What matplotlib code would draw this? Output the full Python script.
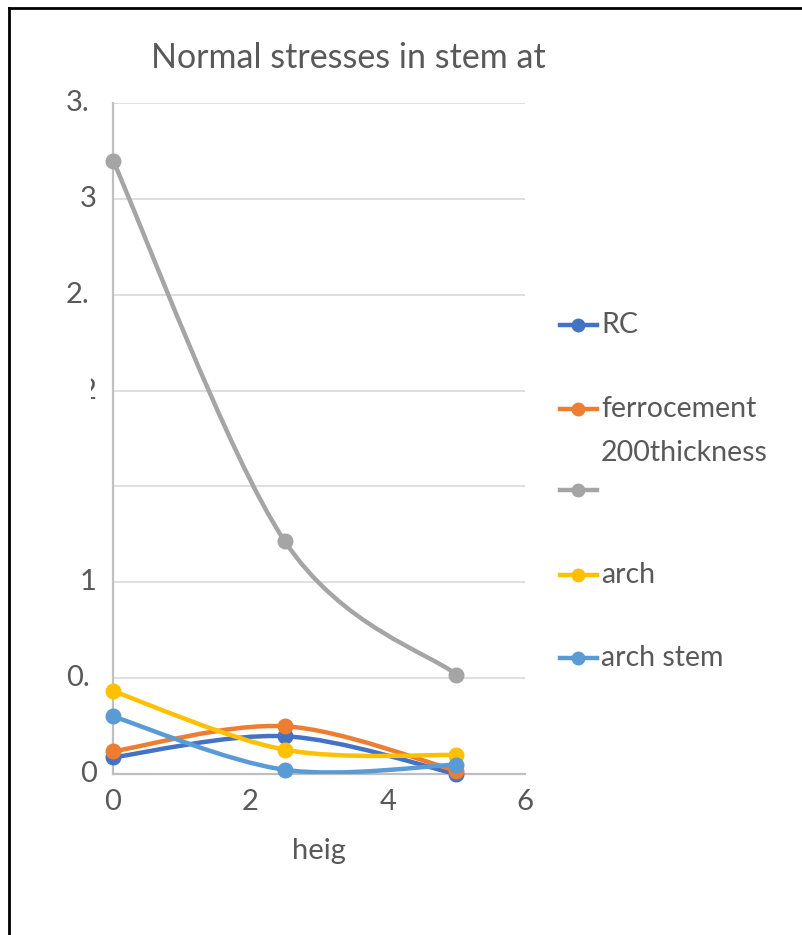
import matplotlib.pyplot as plt
import numpy as np
from matplotlib.path import Path
from matplotlib.patches import PathPatch, Rectangle
from matplotlib.lines import Line2D
import matplotlib.transforms as mtransforms

plt.rcParams['font.family'] = ['Lato', 'DejaVu Sans']

# data
heights = [0, 2.5, 5]
series_names = ['RC', 'ferrocement', '200thickness', 'arch', 'arch stem']
rc = [0.087, 0.197, 0.0]
ferrocement = [0.118, 0.249, 0.017]
thick200 = [3.2, 1.215, 0.519]
arch = [0.432, 0.127, 0.099]
arch_stem = [0.30, 0.022, 0.049]
series_values = [rc, ferrocement, thick200, arch, arch_stem]
colors = ['#4472C4', '#ED7D31', '#A5A5A5', '#FFC000', '#5B9BD5']

y_ticks = [0, 0.5, 1, 1.5, 2, 2.5, 3, 3.5]
y_labels = ['0', '0.', '1', '', '2', '2.', '3', '3.']
x_ticks = [0, 2, 4, 6]
text_color = '#595959'


def smooth_path(xs, ys):
    # Excel-like smoothing: cubic bezier with catmull-rom control points
    pts = np.column_stack([xs, ys]).astype(float)
    n = len(pts)
    verts = [pts[0]]
    codes = [Path.MOVETO]
    for i in range(n - 1):
        p_prev = pts[i - 1] if i > 0 else pts[i]
        p_next2 = pts[i + 2] if i + 2 < n else pts[i + 1]
        c1 = pts[i] + (pts[i + 1] - p_prev) / 6
        c2 = pts[i + 1] - (p_next2 - pts[i]) / 6
        verts += [c1, c2, pts[i + 1]]
        codes += [Path.CURVE4] * 3
    return Path(verts, codes)


W, H = 803, 935
fig = plt.figure(figsize=(W / 100, H / 100), dpi=100)
ax = fig.add_axes([113 / W, 1 - 774 / H, (525 - 113) / W, (774 - 103) / H])

for vals, col in zip(series_values, colors):
    ax.add_patch(PathPatch(smooth_path(heights, vals), facecolor='none',
                           edgecolor=col, lw=3.2, capstyle='round', zorder=3))
    ax.plot(heights, vals, 'o', color=col, markersize=10.5, zorder=4, clip_on=False)

ax.set_xlim(0, 6)
ax.set_ylim(0, 3.5)
ax.set_yticks(y_ticks)
ax.set_yticklabels([])
ax.set_xticks(x_ticks)
ax.set_xticklabels([str(t) for t in x_ticks], fontsize=21, color=text_color)
ax.tick_params(axis='x', length=0, pad=11)
ax.tick_params(axis='y', length=0)
ax.grid(axis='y', color='#D9D9D9', lw=1.2)
ax.set_axisbelow(True)
for s in ['top', 'right']:
    ax.spines[s].set_visible(False)
ax.spines['left'].set_color('#BFBFBF')
ax.spines['left'].set_linewidth(1.6)
ax.spines['bottom'].set_color('#BFBFBF')
ax.spines['bottom'].set_linewidth(1.6)

# truncated y tick labels, as in the source
trans = mtransforms.blended_transform_factory(fig.transFigure, ax.transData)
clip = Rectangle((91, 0), 40, H, transform=None)
for t, lab in zip(y_ticks, y_labels):
    if lab == '':
        continue
    if lab.endswith('.'):
        ax.text(66 / W, t, lab, transform=trans, ha='left', va='center',
                fontsize=21, color=text_color, clip_on=False)
    else:
        txt = ax.text(97 / W, t, lab, transform=trans, ha='right', va='center',
                      fontsize=21, color=text_color, clip_on=False)
        if t == 2:
            txt.set_clip_path(clip)
            txt.set_clip_on(True)

ax.set_xlabel('heig', fontsize=21, color=text_color, labelpad=16)
fig.text(348 / W, 1 - 58 / H, 'Normal stresses in stem at', ha='center', va='center',
         fontsize=24.5, color=text_color)

# legend drawn by hand to reproduce the odd Excel layout
leg_rows = [325, 409, 490, 575, 658]
for name, col, yy in zip(series_names, colors, leg_rows):
    fy = 1 - yy / H
    fig.add_artist(Line2D([560 / W, 597 / W], [fy, fy], color=col, lw=3.2))
    fig.add_artist(Line2D([578 / W], [fy], marker='o', color=col, markersize=9))
    if name == '200thickness':
        fig.text(601 / W, 1 - 453 / H, name, ha='left', va='center',
                 fontsize=20.5, color=text_color)
    else:
        fig.text(601 / W, fy, name, ha='left', va='center',
                 fontsize=20.5, color=text_color)

# outer frame (only left and top edges visible in the crop)
fig.add_artist(Line2D([9 / W, 9 / W], [0, 1 - 8 / H], color='black', lw=2))
fig.add_artist(Line2D([9 / W, 1], [1 - 8 / H, 1 - 8 / H], color='black', lw=2))

fig.savefig('out.png', dpi=100)
